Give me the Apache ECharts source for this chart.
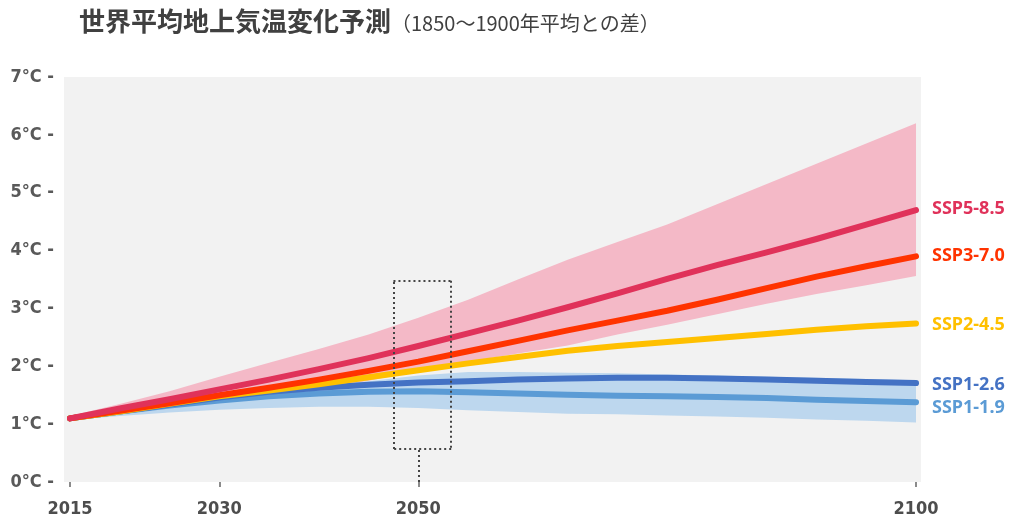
<!DOCTYPE html>
<html>
<head>
<meta charset="utf-8">
<script src="https://cdn.jsdelivr.net/npm/echarts@6/dist/echarts.min.js"></script>
<style>html,body{margin:0;padding:0;background:#fff}#c{width:1025px;height:524px}</style>
</head>
<body>
<div id="c"></div>
<script>
const years = [2015,2020,2025,2030,2035,2040,2045,2050,2055,2060,2065,2070,2075,2080,2085,2090,2095,2100];
const xTickYears = [2015,2030,2050,2100];
const yTicks = [0,1,2,3,4,5,6,7];
const seriesNames = ['SSP1-1.9','SSP1-2.6','SSP2-4.5','SSP3-7.0','SSP5-8.5'];
const ssp119 = [1.10,1.22,1.32,1.41,1.48,1.53,1.56,1.57,1.55,1.53,1.51,1.49,1.48,1.47,1.45,1.42,1.40,1.38];
const ssp126 = [1.10,1.22,1.34,1.46,1.56,1.63,1.68,1.72,1.74,1.77,1.79,1.80,1.80,1.79,1.77,1.75,1.73,1.71];
const ssp245 = [1.10,1.22,1.35,1.48,1.58,1.69,1.81,1.93,2.05,2.16,2.27,2.35,2.42,2.49,2.56,2.63,2.69,2.74];
const ssp370 = [1.10,1.23,1.36,1.50,1.63,1.77,1.92,2.08,2.26,2.44,2.62,2.79,2.96,3.15,3.35,3.55,3.73,3.90];
const ssp585 = [1.10,1.27,1.43,1.60,1.77,1.95,2.14,2.35,2.57,2.79,3.02,3.26,3.51,3.75,3.97,4.20,4.45,4.70];
const pinkUpper = [1.14,1.35,1.57,1.82,2.06,2.30,2.55,2.84,3.15,3.50,3.84,4.15,4.45,4.80,5.15,5.50,5.85,6.20];
const pinkLower = [1.08,1.17,1.27,1.36,1.46,1.58,1.75,1.92,2.08,2.22,2.36,2.55,2.72,2.90,3.08,3.25,3.40,3.56];
const blueUpper = [1.10,1.23,1.36,1.50,1.60,1.66,1.74,1.84,1.90,1.90,1.89,1.88,1.86,1.84,1.82,1.80,1.78,1.76];
const blueLower = [1.07,1.14,1.20,1.25,1.28,1.30,1.30,1.28,1.24,1.21,1.18,1.17,1.15,1.13,1.11,1.08,1.06,1.03];
const boxYears = [2047.5, 2053.3];
const boxTemps = [0.57, 3.48];
const markYear = 2050;

const lineColors = ['#5b9bd5','#4472c4','#ffc000','#ff3300','#e0325a'];
const lineData = [ssp119, ssp126, ssp245, ssp370, ssp585];
const labelOffsets = [[0,6],[0,2],[0,1],[0,0],[0,-1]];
const axisFont = "'DejaVu Sans Condensed','Roboto',sans-serif";

const pair = arr => years.map((y,i)=>[y,arr[i]]);

function bandSeries(upper, lower, color, z){
  return {
    type:'custom', silent:true, z:z,
    data:years.map((y,i)=>[y, lower[i], upper[i]]),
    renderItem:function(params, api){
      if (params.dataIndex !== 0) return null;
      const top = years.map((y,i)=>api.coord([y, upper[i]]));
      const bot = years.map((y,i)=>api.coord([y, lower[i]])).reverse();
      return {type:'polygon', shape:{points:top.concat(bot)}, style:{fill:color}};
    },
    encode:{x:0, y:[1,2]}
  };
}

const series = [];
series.push(bandSeries(pinkUpper, pinkLower, '#f4b9c7', 1));
series.push(bandSeries(blueUpper, blueLower, '#bdd7ee', 2));

lineData.forEach((d,i)=>{
  series.push({
    type:'line', name:seriesNames[i], data:pair(d), symbol:'none', z:3+i,
    lineStyle:{color:lineColors[i], width:6, cap:'round', join:'round'},
    itemStyle:{color:lineColors[i]},
    endLabel:{show:true, formatter:seriesNames[i], color:lineColors[i], fontSize:18, fontWeight:'bold',
      fontFamily:'Noto Sans', distance:16, offset:labelOffsets[i]}
  });
});

const [bx0,bx1] = boxYears, [by0,by1] = boxTemps;
series.push({
  type:'line', data:[], silent:true, z:20,
  markLine:{silent:true, symbol:'none', label:{show:false}, z:20,
    lineStyle:{color:'#444', width:2, type:[2,3]},
    emphasis:{disabled:true},
    data:[
      [{coord:[bx0,by1]},{coord:[bx1,by1]}],
      [{coord:[bx1,by1]},{coord:[bx1,by0]}],
      [{coord:[bx1,by0]},{coord:[bx0,by0]}],
      [{coord:[bx0,by0]},{coord:[bx0,by1]}],
      [{coord:[markYear,0]},{coord:[markYear,by0]}]
    ]}
});

const chart = echarts.init(document.getElementById('c'), null, {renderer:'canvas'});
chart.setOption({
  animation:false,
  backgroundColor:'#ffffff',
  title:{
    left:74, top:3,
    text:'{a|世界平均地上気温変化予測}{b|（1850〜1900年平均との差）}',
    textStyle:{rich:{
      a:{fontFamily:'Noto Sans CJK JP', fontSize:26, fontWeight:'bold', color:'#404040'},
      b:{fontFamily:'Noto Sans CJK JP', fontSize:20, fontWeight:'normal', color:'#404040', padding:[4,0,0,0]}
    }}
  },
  grid:{left:64, right:104, top:77, bottom:42, show:true, backgroundColor:'#f2f2f2', borderWidth:0},
  xAxis:{
    type:'value', min:2014.4, max:2100.5, offset:6,
    axisLine:{show:false},
    splitLine:{show:false},
    axisTick:{show:true, length:5, lineStyle:{color:'#666', width:1.5}, customValues:xTickYears},
    axisLabel:{customValues:xTickYears, margin:12, fontFamily:axisFont, fontSize:18, fontWeight:'bold', color:'#4d4d4d', formatter:v=>String(v)}
  },
  yAxis:{
    type:'value', min:0, max:7, interval:1,
    axisLine:{show:false}, axisTick:{show:false}, splitLine:{show:false},
    axisLabel:{margin:10, fontFamily:axisFont, fontSize:18, fontWeight:'bold', color:'#595959',
      formatter:v=>v+'°C -', padding:[0,0,5,0]}
  },
  series:series
});
</script>
</body>
</html>
